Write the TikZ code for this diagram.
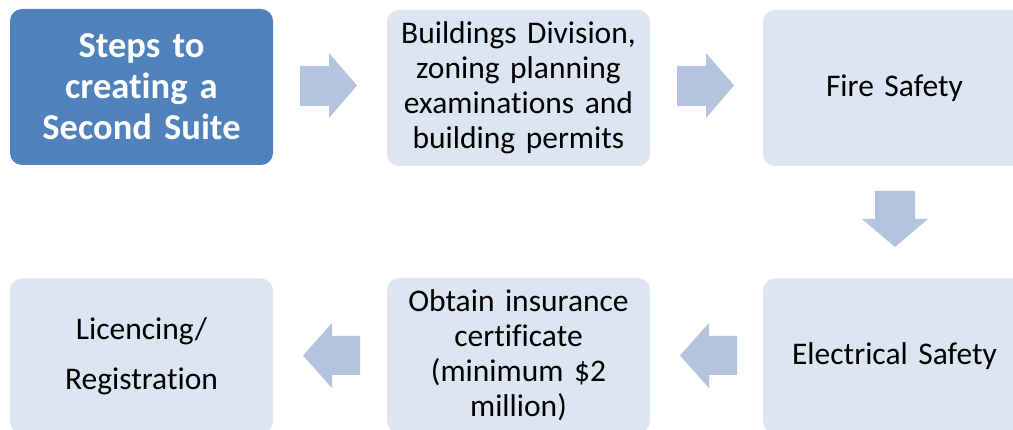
\documentclass[tikz,border=0pt]{standalone}
\usepackage{fontspec}
\setmainfont{Carlito}[RawFeature={-liga}, WordSpace={0.8}]
\definecolor{darkbox}{HTML}{4F81BD}
\definecolor{lightbox}{HTML}{DCE6F2}
\definecolor{arrowfill}{HTML}{B4C3DE}
\begin{document}
\begin{tikzpicture}[x=1pt,y=-1pt,
  stepbox/.style={rectangle, rounded corners=12pt, minimum width=263pt, inner sep=0pt, outer sep=0pt, align=center, text width=258pt},
  topbox/.style={stepbox, minimum height=156pt},
  botbox/.style={stepbox, minimum height=155pt},
  lightstep/.style={fill=lightbox, text=black, font=\fontsize{31.5}{35}\selectfont},
  darkstep/.style={fill=darkbox, text=white, font=\fontsize{36.5}{41}\selectfont\bfseries},
  blockarrow/.style={fill=arrowfill}]
\useasboundingbox (0,0) rectangle (1013,430);
\clip (0,0) rectangle (1013,430);
\fill[white] (0,0) rectangle (1013,430);
% top row
\node[topbox, darkstep] (s0) at (141.5,87) {Steps to\\creating a\\Second Suite};
\node[topbox, lightstep] (s1) at (518.5,88) {Buildings Division,\\zoning planning\\examinations and\\building permits};
\node[topbox, lightstep] (s2) at (894.5,88) {Fire Safety};
% bottom row
\node[botbox, lightstep] (s3) at (894.5,356) {Electrical Safety};
\node[botbox, lightstep] (s4) at (518.5,355.5) {Obtain insurance\\certificate\\(minimum \$2\\million)};
\node[botbox, lightstep, font=\fontsize{31.5}{50}\selectfont] (s5) at (141.5,356) {Licencing/\\Registration};
% block arrows
\fill[blockarrow] (300,66) -- (329,66) -- (329,53) -- (357,85.5) -- (329,118) -- (329,106) -- (300,106) -- cycle;
\fill[blockarrow] (677,66) -- (706,66) -- (706,53) -- (734,85.5) -- (706,118) -- (706,106) -- (677,106) -- cycle;
\fill[blockarrow] (875,191) -- (915,191) -- (915,219) -- (928,219) -- (895,247) -- (862,219) -- (875,219) -- cycle;
\fill[blockarrow] (737,336) -- (709,336) -- (709,323) -- (680,355.5) -- (709,388) -- (709,375) -- (737,375) -- cycle;
\fill[blockarrow] (360,336) -- (332,336) -- (332,323) -- (303,355.5) -- (332,388) -- (332,375) -- (360,375) -- cycle;
\end{tikzpicture}
\end{document}
